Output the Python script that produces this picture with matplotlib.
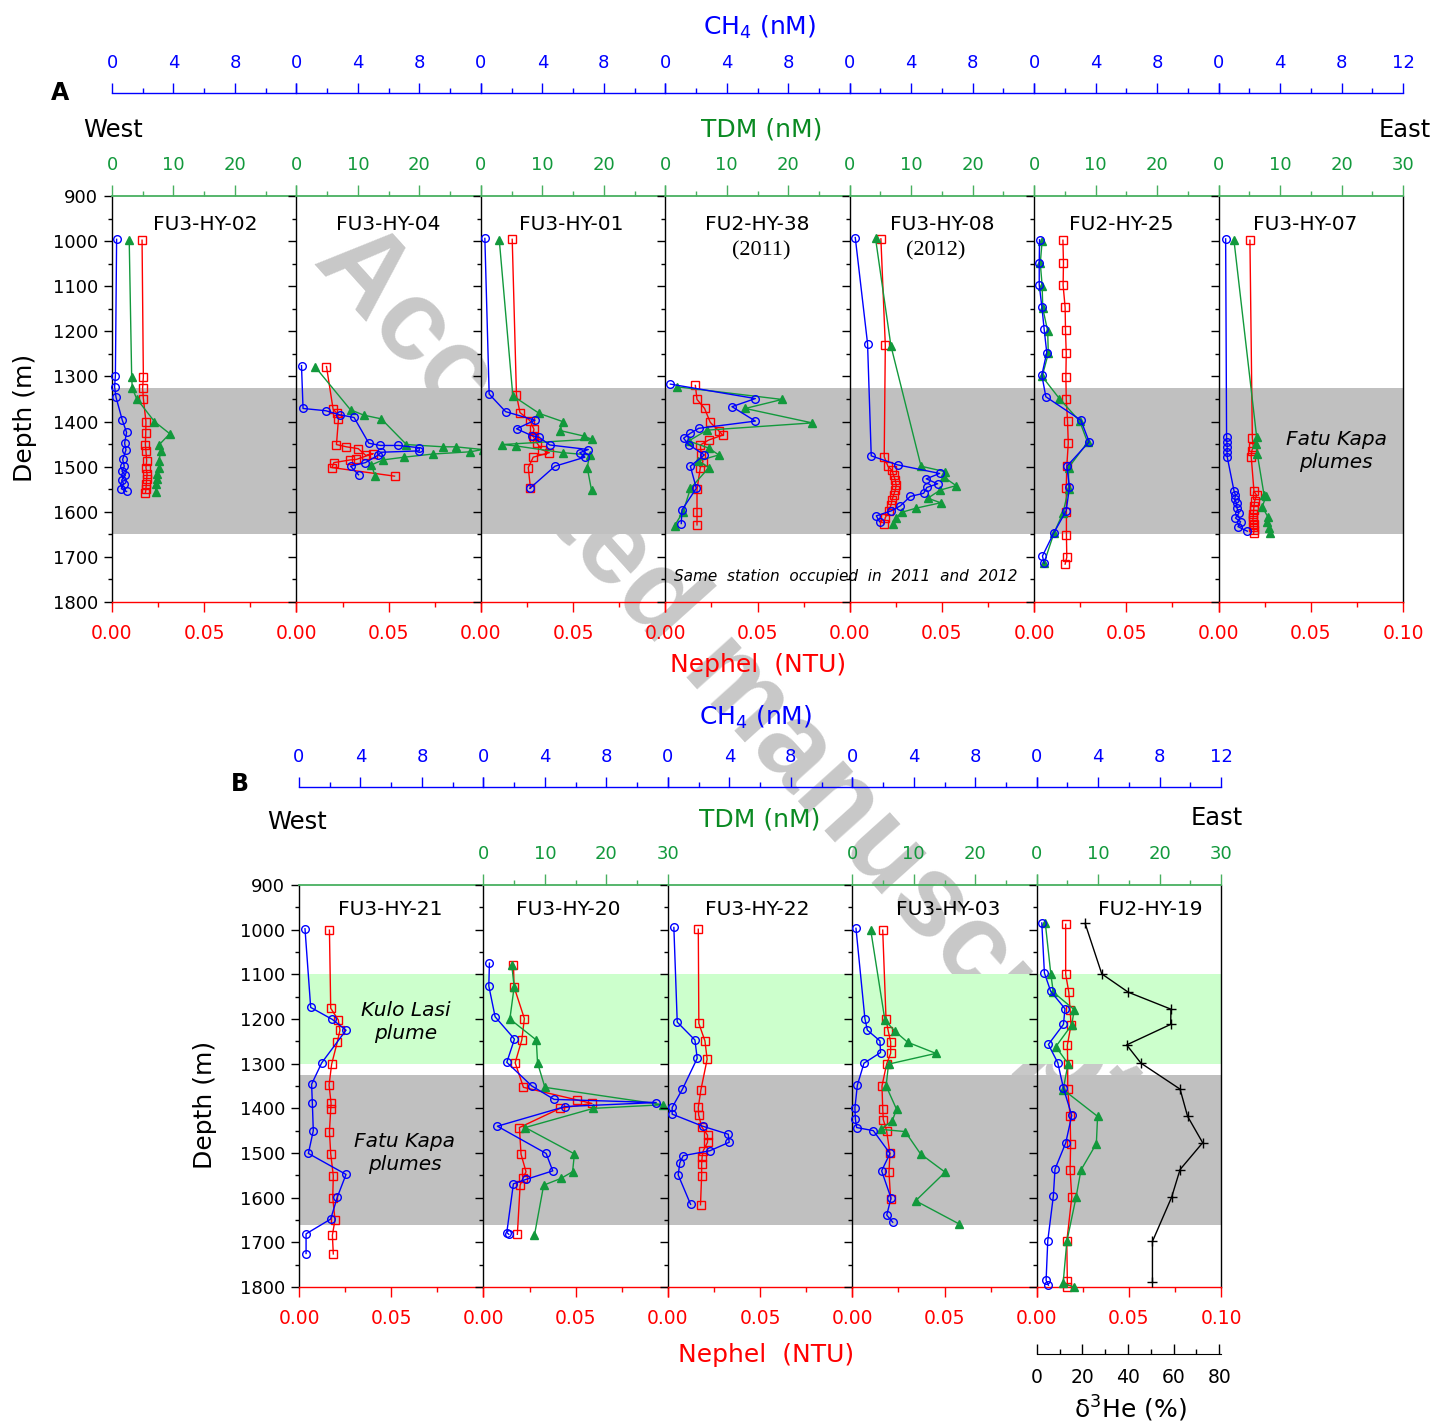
import numpy as np
import matplotlib
matplotlib.use("Agg")
import matplotlib.pyplot as plt
from matplotlib.ticker import FixedLocator, FixedFormatter

# ---- data: depth (m) and value pairs per station ----
# panel A
hy02_ch4_z = [996, 1298, 1323, 1346, 1397, 1424, 1448, 1463, 1484, 1499, 1510, 1519, 1530, 1538, 1549, 1555]
hy02_ch4 = [0.30, 0.22, 0.17, 0.26, 0.67, 0.95, 0.82, 0.91, 0.69, 0.80, 0.65, 0.87, 0.63, 0.76, 0.61, 0.95]
hy02_tdm_z = [998, 1301, 1326, 1349, 1400, 1427, 1451, 1465, 1487, 1502, 1516, 1527, 1539, 1557]
hy02_tdm = [2.8, 3.2, 3.3, 4.0, 6.9, 9.4, 7.7, 8.0, 7.6, 7.6, 7.4, 7.4, 7.2, 7.1]
hy02_neph_z = [998, 1301, 1326, 1349, 1400, 1425, 1451, 1465, 1487, 1502, 1516, 1527, 1538, 1550, 1559]
hy02_neph = [0.0163, 0.0170, 0.0166, 0.0170, 0.0184, 0.0183, 0.0181, 0.0184, 0.0188, 0.0184, 0.0190, 0.0188, 0.0186, 0.0184, 0.0181]

hy04_ch4_z = [1276, 1371, 1376, 1385, 1391, 1448, 1453, 1453, 1458, 1465, 1468, 1475, 1491, 1499, 1518]
hy04_ch4 = [0.33, 0.43, 1.91, 2.82, 3.75, 4.71, 5.47, 6.64, 7.99, 7.99, 5.53, 5.29, 4.49, 3.52, 4.04]
hy04_tdm_z = [1278, 1374, 1386, 1394, 1451, 1456, 1456, 1462, 1467, 1472, 1479, 1485, 1496, 1521]
hy04_tdm = [3.0, 8.8, 11.0, 13.8, 17.9, 23.9, 25.9, 30.3, 28.3, 22.2, 17.5, 14.1, 12.2, 12.8]
hy04_neph_z = [1278, 1373, 1382, 1394, 1451, 1456, 1460, 1475, 1471, 1484, 1485, 1491, 1502, 1521]
hy04_neph = [0.0163, 0.0199, 0.0221, 0.0228, 0.0217, 0.0271, 0.0335, 0.0376, 0.0416, 0.0325, 0.0293, 0.0203, 0.0193, 0.0532]

hy01_ch4_z = [994, 1339, 1378, 1397, 1416, 1431, 1435, 1452, 1462, 1469, 1479, 1499, 1548]
hy01_ch4 = [0.26, 0.54, 1.61, 3.52, 2.32, 3.30, 3.80, 4.49, 6.99, 6.44, 6.77, 4.82, 3.19]
hy01_tdm_z = [998, 1343, 1382, 1400, 1420, 1432, 1439, 1451, 1454, 1469, 1474, 1502, 1552]
hy01_tdm = [3.0, 5.2, 9.5, 13.3, 12.9, 16.7, 18.0, 3.5, 5.7, 13.3, 17.7, 17.3, 18.0]
hy01_neph_z = [996, 1341, 1380, 1398, 1417, 1431, 1437, 1448, 1462, 1469, 1479, 1502, 1548]
hy01_neph = [0.0170, 0.0193, 0.0212, 0.0266, 0.0288, 0.0280, 0.0290, 0.0305, 0.0329, 0.0371, 0.0284, 0.0257, 0.0269]

hy38_ch4_z = [1317, 1349, 1367, 1399, 1415, 1426, 1437, 1451, 1474, 1499, 1548, 1596, 1626]
hy38_ch4 = [0.33, 5.86, 4.34, 5.86, 2.17, 1.63, 1.19, 1.52, 2.54, 1.63, 2.02, 1.08, 1.04]
hy38_tdm_z = [1323, 1351, 1371, 1403, 1419, 1443, 1459, 1474, 1487, 1502, 1548, 1600, 1631]
hy38_tdm = [1.9, 19.0, 13.0, 23.9, 6.8, 3.8, 7.1, 8.7, 5.4, 7.1, 4.1, 2.9, 1.5]
hy38_neph_z = [1320, 1351, 1371, 1402, 1420, 1430, 1441, 1452, 1474, 1489, 1502, 1550, 1600, 1629]
hy38_neph = [0.0163, 0.0172, 0.0213, 0.0244, 0.0289, 0.0311, 0.0235, 0.0190, 0.0195, 0.0204, 0.0190, 0.0172, 0.0172, 0.0172]

hy08_ch4_z = [992, 1227, 1476, 1496, 1515, 1527, 1538, 1546, 1559, 1566, 1587, 1598, 1609, 1622]
hy08_ch4 = [0.36, 1.16, 1.40, 3.11, 5.85, 4.98, 5.72, 5.02, 4.81, 3.94, 3.29, 2.70, 1.73, 1.94]
hy08_tdm_z = [994, 1232, 1499, 1511, 1524, 1542, 1552, 1570, 1580, 1592, 1601, 1613, 1626]
hy08_tdm = [4.2, 6.7, 11.6, 15.5, 15.4, 17.3, 14.7, 12.7, 14.8, 10.8, 8.5, 7.5, 7.1]
hy08_neph_z = [995, 1231, 1478, 1499, 1508, 1519, 1530, 1541, 1552, 1563, 1574, 1585, 1598, 1613, 1628]
hy08_neph = [0.0169, 0.0193, 0.0187, 0.0207, 0.0229, 0.0238, 0.0247, 0.0252, 0.0247, 0.0238, 0.0229, 0.0224, 0.0211, 0.0193, 0.0184]

hy25_ch4_z = [997, 1049, 1097, 1145, 1195, 1247, 1297, 1345, 1397, 1445, 1499, 1546, 1598, 1648, 1698, 1714]
hy25_ch4 = [0.35, 0.33, 0.33, 0.50, 0.65, 0.82, 0.50, 0.76, 3.04, 3.58, 2.13, 2.30, 2.08, 1.26, 0.54, 0.65]
hy25_tdm_z = [999, 1049, 1099, 1149, 1199, 1249, 1300, 1349, 1399, 1446, 1502, 1549, 1602, 1648, 1714]
hy25_tdm = [1.3, 1.0, 1.3, 1.4, 2.2, 2.3, 1.3, 4.1, 7.4, 8.7, 5.6, 5.6, 4.7, 3.2, 1.6]
hy25_neph_z = [998, 1049, 1098, 1147, 1198, 1249, 1301, 1349, 1399, 1448, 1499, 1548, 1600, 1652, 1701, 1716]
hy25_neph = [0.0156, 0.0159, 0.0157, 0.0168, 0.0170, 0.0174, 0.0172, 0.0174, 0.0181, 0.0185, 0.0177, 0.0174, 0.0175, 0.0175, 0.0177, 0.0168]

hy07_ch4_z = [995, 1434, 1445, 1456, 1467, 1478, 1553, 1563, 1572, 1581, 1592, 1603, 1614, 1622, 1633, 1643]
hy07_ch4 = [0.46, 0.52, 0.54, 0.56, 0.55, 0.56, 1.00, 1.10, 1.05, 1.17, 1.20, 1.32, 1.10, 1.43, 1.26, 1.87]
hy07_tdm_z = [998, 1435, 1450, 1472, 1563, 1566, 1589, 1611, 1622, 1637, 1646]
hy07_tdm = [2.5, 6.2, 6.1, 6.3, 7.4, 7.7, 7.1, 8.0, 7.8, 8.2, 8.3]
hy07_neph_z = [998, 1436, 1456, 1465, 1478, 1555, 1563, 1577, 1588, 1596, 1604, 1611, 1618, 1626, 1633, 1641, 1648]
hy07_neph = [0.0170, 0.0183, 0.0188, 0.0180, 0.0177, 0.0192, 0.0206, 0.0195, 0.0192, 0.0190, 0.0188, 0.0188, 0.0186, 0.0190, 0.0188, 0.0192, 0.0190]

# panel B
hy21_ch4_z = [998, 1174, 1201, 1225, 1298, 1346, 1389, 1450, 1501, 1548, 1598, 1648, 1681, 1725]
hy21_ch4 = [0.39, 0.76, 2.17, 3.06, 1.48, 0.82, 0.87, 0.93, 0.61, 3.06, 2.50, 2.06, 0.46, 0.46]
hy21_neph_z = [1001, 1176, 1202, 1225, 1251, 1301, 1348, 1389, 1402, 1452, 1502, 1551, 1600, 1650, 1684, 1726]
hy21_neph = [0.0165, 0.0172, 0.0213, 0.0222, 0.0208, 0.0177, 0.0163, 0.0174, 0.0172, 0.0165, 0.0172, 0.0186, 0.0183, 0.0195, 0.0181, 0.0186]

hy20_ch4_z = [1075, 1126, 1195, 1245, 1297, 1350, 1380, 1387, 1396, 1440, 1501, 1540, 1559, 1569, 1678, 1682]
hy20_ch4 = [0.39, 0.35, 0.76, 2.02, 1.52, 3.15, 4.60, 11.24, 5.32, 0.91, 4.08, 4.51, 2.78, 1.95, 1.52, 1.65]
hy20_tdm_z = [1079, 1128, 1200, 1247, 1298, 1353, 1392, 1400, 1443, 1502, 1542, 1557, 1572, 1684]
hy20_tdm = [4.6, 5.0, 4.3, 8.6, 8.8, 10.0, 29.2, 17.9, 6.8, 14.8, 14.5, 12.6, 9.8, 8.3]
hy20_neph_z = [1078, 1128, 1199, 1247, 1298, 1353, 1381, 1389, 1400, 1443, 1503, 1542, 1557, 1572, 1682]
hy20_neph = [0.0163, 0.0166, 0.0222, 0.0208, 0.0172, 0.0217, 0.0506, 0.0588, 0.0416, 0.0195, 0.0204, 0.0231, 0.0213, 0.0199, 0.0184]

hy22_ch4_z = [995, 1207, 1247, 1288, 1357, 1398, 1413, 1440, 1458, 1476, 1495, 1506, 1522, 1549, 1615]
hy22_ch4 = [0.39, 0.61, 1.76, 1.91, 0.95, 0.28, 0.28, 2.26, 3.93, 3.99, 2.73, 1.00, 0.78, 0.67, 1.48]
hy22_neph_z = [999, 1210, 1249, 1290, 1359, 1398, 1415, 1441, 1460, 1476, 1495, 1508, 1525, 1551, 1616]
hy22_neph = [0.0165, 0.0168, 0.0201, 0.0213, 0.0179, 0.0165, 0.0167, 0.0183, 0.0215, 0.0215, 0.0192, 0.0186, 0.0183, 0.0183, 0.0177]

hy03_ch4_z = [997, 1199, 1225, 1249, 1275, 1299, 1348, 1399, 1424, 1443, 1450, 1501, 1540, 1601, 1639, 1655]
hy03_ch4 = [0.24, 0.82, 0.98, 1.80, 1.84, 0.76, 0.33, 0.17, 0.20, 0.28, 1.37, 2.45, 1.91, 2.52, 2.24, 2.63]
hy03_tdm_z = [1001, 1202, 1227, 1252, 1277, 1301, 1350, 1402, 1428, 1447, 1452, 1502, 1543, 1607, 1659]
hy03_tdm = [3.0, 5.3, 6.9, 9.0, 13.6, 5.9, 5.5, 7.2, 6.5, 4.6, 8.6, 11.1, 15.1, 10.3, 17.4]
hy03_neph_z = [1001, 1201, 1227, 1251, 1277, 1301, 1350, 1401, 1425, 1450, 1501, 1543, 1604]
hy03_neph = [0.0165, 0.0183, 0.0195, 0.0208, 0.0208, 0.0186, 0.0161, 0.0165, 0.0168, 0.0186, 0.0204, 0.0199, 0.0208]

hy19_ch4_z = [985, 1097, 1138, 1177, 1212, 1257, 1298, 1355, 1416, 1477, 1536, 1597, 1696, 1785, 1796]
hy19_ch4 = [0.33, 0.50, 0.91, 1.84, 1.74, 0.76, 1.37, 1.74, 2.28, 1.89, 1.19, 1.08, 0.72, 0.61, 0.76]
hy19_tdm_z = [986, 1100, 1140, 1179, 1213, 1262, 1300, 1358, 1418, 1479, 1538, 1599, 1698, 1791, 1800]
hy19_tdm = [1.4, 2.3, 2.7, 6.1, 5.7, 3.1, 5.1, 4.3, 9.9, 9.7, 7.2, 6.4, 4.9, 4.3, 6.0]
hy19_neph_z = [988, 1100, 1140, 1179, 1213, 1259, 1300, 1357, 1418, 1479, 1538, 1599, 1698, 1787, 1800]
hy19_neph = [0.0157, 0.0157, 0.0174, 0.0181, 0.0186, 0.0166, 0.0168, 0.0168, 0.0181, 0.0184, 0.0181, 0.0190, 0.0163, 0.0166, 0.0166]
hy19_he_z = [986, 1099, 1140, 1178, 1212, 1258, 1299, 1357, 1418, 1477, 1537, 1599, 1698, 1788]
hy19_he = [21.2, 28.5, 40.1, 58.8, 58.7, 39.4, 45.7, 62.8, 66.1, 72.7, 62.8, 59.1, 50.7, 50.7]

# plume depth bands (m)
band_a_gray = (1325, 1650)
band_b_green = (1100, 1300)
band_b_gray = (1325, 1662)

BLUE = '#0000ff'
RED = '#ff0000'
GREEN = '#12993c'
GREEN_TXT = '#0a8a22'
GREEN_AX = '#48b060'
GRAY = '#c0c0c0'
LGREEN = '#ccffcc'

plt.rcParams['font.family'] = ['DejaVu Sans']

W, H = 1435, 1426
PW = 184.43
fig = plt.figure(figsize=(W / 100, H / 100), dpi=100)


def fx(x):
    return x / W


def fy(y):
    return 1 - y / H


def panel(x0, ytop, ybot, title, tpos, ch4, neph, tdm=None, he=None,
          first=False, last=False, tdm_ticks=True, tdm_end=False, ch4_end=False,
          ch4_y=1.26, bands=()):
    ax = fig.add_axes([fx(x0), fy(ybot), PW / W, (ybot - ytop) / H])
    ax.set_facecolor('none')
    for lo, hi, c in bands:
        ax.axhspan(lo, hi, color=c, lw=0, zorder=0)
    ax.set_xlim(0, 0.1)
    ax.set_ylim(1800, 900)

    # depth axis
    ax.yaxis.set_major_locator(FixedLocator(np.arange(900, 1801, 100)))
    ax.yaxis.set_minor_locator(FixedLocator(np.arange(950, 1800, 100)))
    ax.tick_params(axis='y', which='major', direction='out', length=6, width=1,
                   labelsize=13, pad=4, labelleft=first)
    ax.tick_params(axis='y', which='minor', direction='out', length=3, width=1)

    # nephel axis
    ax.xaxis.set_major_locator(FixedLocator([0, 0.05, 0.1]))
    ax.xaxis.set_major_formatter(FixedFormatter(['0.00', '0.05', '0.10' if last else '']))
    ax.xaxis.set_minor_locator(FixedLocator([0.025, 0.075]))
    ax.tick_params(axis='x', which='major', direction='out', length=7, width=1,
                   colors=RED, labelsize=13.5, pad=9)
    ax.tick_params(axis='x', which='minor', direction='out', length=3.5, width=1, colors=RED)
    ax.spines['bottom'].set_color(RED)
    ax.spines['top'].set_visible(False)
    ax.spines['right'].set_visible(last)
    for s in ax.spines.values():
        s.set_linewidth(1.0)

    ax.plot(neph[0], neph[1], color=RED, marker='s', mfc='none', mec=RED,
            ms=6, mew=1, lw=1, clip_on=False, zorder=3)

    # TDM axis (top spine)
    at = ax.twiny()
    at.set_xlim(0, 30)
    for s in ['left', 'right', 'bottom']:
        at.spines[s].set_visible(False)
    at.spines['top'].set_color(GREEN_AX)
    at.spines['top'].set_linewidth(1.3)
    if tdm_ticks:
        at.xaxis.set_major_locator(FixedLocator([0, 10, 20, 30]))
        at.xaxis.set_major_formatter(FixedFormatter(['0', '10', '20', '30' if tdm_end else '']))
        at.xaxis.set_minor_locator(FixedLocator([5, 15, 25]))
        at.tick_params(axis='x', which='major', direction='out', length=8, width=1,
                       color=GREEN_AX, labelcolor=GREEN, labelsize=13, pad=8)
        at.tick_params(axis='x', which='minor', direction='out', length=3.5, width=1,
                       color=GREEN_AX)
    else:
        at.set_xticks([])
    if tdm is not None:
        at.plot(tdm[0], tdm[1], color=GREEN, marker='^', ms=6, mew=1, lw=1,
                clip_on=False, zorder=3)

    # CH4 axis (offset above)
    ac = ax.twiny()
    ac.set_xlim(0, 12)
    for s in ['left', 'right', 'bottom']:
        ac.spines[s].set_visible(False)
    ac.spines['top'].set_position(('axes', ch4_y))
    ac.spines['top'].set_color(BLUE)
    ac.spines['top'].set_linewidth(1.0)
    ac.xaxis.set_major_locator(FixedLocator([0, 4, 8, 12]))
    ac.xaxis.set_major_formatter(FixedFormatter(['0', '4', '8', '12' if ch4_end else '']))
    ac.xaxis.set_minor_locator(FixedLocator([2, 6, 10]))
    ac.tick_params(axis='x', which='major', direction='out', length=7, width=1,
                   colors=BLUE, labelsize=13, pad=8)
    ac.tick_params(axis='x', which='minor', direction='out', length=3.5, width=1, colors=BLUE)
    ac.plot(ch4[0], ch4[1], color=BLUE, marker='o', mfc='none', mec=BLUE,
            ms=5.5, mew=1, lw=1, clip_on=False, zorder=4)

    # delta 3He axis below the panel
    if he is not None:
        ah = ax.twiny()
        ah.set_xlim(0, 80.8)
        for s in ['left', 'right', 'top']:
            ah.spines[s].set_visible(False)
        ah.xaxis.set_ticks_position('bottom')
        ah.xaxis.set_label_position('bottom')
        ah.spines['bottom'].set_position(('axes', -0.166))
        ah.spines['bottom'].set_color('black')
        ah.xaxis.set_major_locator(FixedLocator([0, 20, 40, 60, 80]))
        ah.xaxis.set_minor_locator(FixedLocator([10, 30, 50, 70]))
        ah.tick_params(axis='x', which='major', direction='in', length=7, width=1,
                       labelsize=13.5, pad=10)
        ah.tick_params(axis='x', which='minor', direction='in', length=3.5, width=1)
        ah.plot(he[0], he[1], color='black', marker='+', ms=7, mew=1, lw=1,
                clip_on=False, zorder=4)

    fig.text(fx(tpos[0]), fy(tpos[1]), title, ha='center', va='center', fontsize=14.5)
    return ax


# ---- panel A ----
xa = 112
ya0, ya1 = 196, 602
bands_a = [(band_a_gray[0], band_a_gray[1], GRAY)]
stations_a = [
    ("FU3-HY-02", 205, (hy02_ch4, hy02_ch4_z), (hy02_neph, hy02_neph_z), (hy02_tdm, hy02_tdm_z)),
    ("FU3-HY-04", 388, (hy04_ch4, hy04_ch4_z), (hy04_neph, hy04_neph_z), (hy04_tdm, hy04_tdm_z)),
    ("FU3-HY-01", 571, (hy01_ch4, hy01_ch4_z), (hy01_neph, hy01_neph_z), (hy01_tdm, hy01_tdm_z)),
    ("FU2-HY-38", 757, (hy38_ch4, hy38_ch4_z), (hy38_neph, hy38_neph_z), (hy38_tdm, hy38_tdm_z)),
    ("FU3-HY-08", 942, (hy08_ch4, hy08_ch4_z), (hy08_neph, hy08_neph_z), (hy08_tdm, hy08_tdm_z)),
    ("FU2-HY-25", 1121, (hy25_ch4, hy25_ch4_z), (hy25_neph, hy25_neph_z), (hy25_tdm, hy25_tdm_z)),
    ("FU3-HY-07", 1305, (hy07_ch4, hy07_ch4_z), (hy07_neph, hy07_neph_z), (hy07_tdm, hy07_tdm_z)),
]
for i, (name, tx, c, n, t) in enumerate(stations_a):
    last = i == len(stations_a) - 1
    panel(xa + i * PW, ya0, ya1, name, (tx, 224), c, n, tdm=t, first=(i == 0), last=last,
          tdm_end=last, ch4_end=last, ch4_y=(ya1 - 93) / (ya1 - ya0), bands=bands_a)

# ---- panel B ----
xb = 299
yb0, yb1 = 885, 1287
bands_b = [(band_b_green[0], band_b_green[1], LGREEN), (band_b_gray[0], band_b_gray[1], GRAY)]
cb = (yb1 - 787) / (yb1 - yb0)
panel(xb, yb0, yb1, "FU3-HY-21", (390, 909), (hy21_ch4, hy21_ch4_z), (hy21_neph, hy21_neph_z),
      first=True, tdm_ticks=False, ch4_y=cb, bands=bands_b)
panel(xb + PW, yb0, yb1, "FU3-HY-20", (568, 909), (hy20_ch4, hy20_ch4_z), (hy20_neph, hy20_neph_z),
      tdm=(hy20_tdm, hy20_tdm_z), tdm_end=True, ch4_y=cb, bands=bands_b)
panel(xb + 2 * PW, yb0, yb1, "FU3-HY-22", (757, 909), (hy22_ch4, hy22_ch4_z), (hy22_neph, hy22_neph_z),
      tdm_ticks=False, ch4_y=cb, bands=bands_b)
panel(xb + 3 * PW, yb0, yb1, "FU3-HY-03", (948, 909), (hy03_ch4, hy03_ch4_z), (hy03_neph, hy03_neph_z),
      tdm=(hy03_tdm, hy03_tdm_z), ch4_y=cb, bands=bands_b)
panel(xb + 4 * PW, yb0, yb1, "FU2-HY-19", (1150, 909), (hy19_ch4, hy19_ch4_z), (hy19_neph, hy19_neph_z),
      tdm=(hy19_tdm, hy19_tdm_z), he=(hy19_he, hy19_he_z), last=True, tdm_end=True, ch4_end=True,
      ch4_y=cb, bands=bands_b)

# ---- annotations ----
fig.text(fx(760), fy(27), 'CH$_4$ (nM)', color=BLUE, fontsize=18, ha='center', va='center')
fig.text(fx(756), fy(717), 'CH$_4$ (nM)', color=BLUE, fontsize=18, ha='center', va='center')
fig.text(fx(762), fy(130), 'TDM (nM)', color=GREEN_TXT, fontsize=18, ha='center', va='center')
fig.text(fx(760), fy(820), 'TDM (nM)', color=GREEN_TXT, fontsize=18, ha='center', va='center')
fig.text(fx(758), fy(665), 'Nephel  (NTU)', color=RED, fontsize=18, ha='center', va='center')
fig.text(fx(766), fy(1355), 'Nephel  (NTU)', color=RED, fontsize=18, ha='center', va='center')
fig.text(fx(25), fy(418), 'Depth (m)', fontsize=18, rotation=90, ha='center', va='center')
fig.text(fx(205), fy(1105), 'Depth (m)', fontsize=18, rotation=90, ha='center', va='center')
fig.text(fx(83), fy(130), 'West', fontsize=17.5, ha='left', va='center')
fig.text(fx(1431), fy(130), 'East', fontsize=17.5, ha='right', va='center')
fig.text(fx(267), fy(822), 'West', fontsize=17.5, ha='left', va='center')
fig.text(fx(1243), fy(818), 'East', fontsize=17.5, ha='right', va='center')
fig.text(fx(60), fy(93), 'A', fontsize=17, fontweight='bold', ha='center', va='center')
fig.text(fx(240), fy(784), 'B', fontsize=17, fontweight='bold', ha='center', va='center')
fig.text(fx(761), fy(251), '(2011)', fontsize=16, family='Liberation Serif', ha='center', va='center')
fig.text(fx(936), fy(251), '(2012)', fontsize=16, family='Liberation Serif', ha='center', va='center')
fig.text(fx(846), fy(577), 'Same  station  occupied  in  2011  and  2012', fontsize=11,
         style='italic', ha='center', va='center')
fig.text(fx(1336), fy(451), 'Fatu Kapa\nplumes', fontsize=14.5, style='italic',
         ha='center', va='center', linespacing=1.3)
fig.text(fx(406), fy(1022), 'Kulo Lasi\nplume', fontsize=14.5, style='italic',
         ha='center', va='center', linespacing=1.25)
fig.text(fx(405), fy(1153), 'Fatu Kapa\nplumes', fontsize=14.5, style='italic',
         ha='center', va='center', linespacing=1.25)
fig.text(fx(1130), fy(1409), 'δ$^3$He (%)', fontsize=18, ha='center', va='center')

# watermark, behind the transparent axes (hidden by the coloured bands)
fig.text(fx(726), fy(677), 'Accepted manuscript', fontsize=83, fontweight='bold',
         family='Liberation Sans', color='#c8c8c8', rotation=-48, rotation_mode='anchor',
         ha='center', va='center', zorder=-1)

fig.savefig('out.png', dpi=100, facecolor='white')
